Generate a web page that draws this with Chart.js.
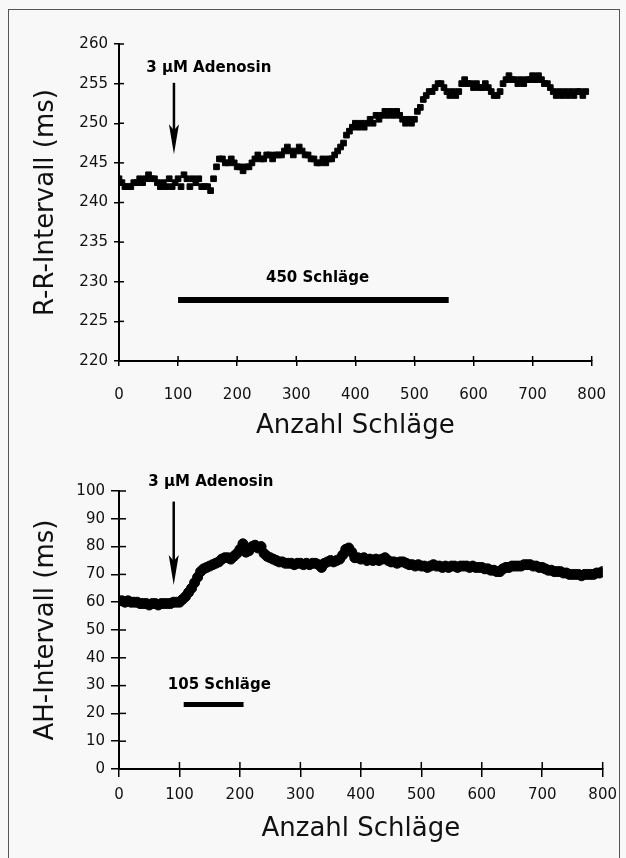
<!DOCTYPE html>
<html>
<head>
<meta charset="utf-8">
<script src="https://cdn.jsdelivr.net/npm/chart.js@4.4.1/dist/chart.umd.min.js"></script>
<style>
  html, body { margin: 0; padding: 0; background: #f8f8f8; }
  #page { position: relative; width: 626px; height: 858px; overflow: hidden; }
  #frame { position: absolute; left: 8px; top: 9px; width: 612px; height: 870px; border: 1px solid #555; box-sizing: border-box; }
  canvas { position: absolute; left: 0; }
  #rrChart { top: 0; }
  #ahChart { top: 445px; }
</style>
</head>
<body>
<div id="page">
  <div id="frame"></div>
  <canvas id="rrChart" width="626" height="445"></canvas>
  <canvas id="ahChart" width="626" height="413"></canvas>
</div>
<script>
// beats are sampled every 5 beats
const beatStep = 5;
const beatTicks = [0, 100, 200, 300, 400, 500, 600, 700, 800];
const rrTicks = [220, 225, 230, 235, 240, 245, 250, 255, 260];
const ahTicks = [0, 10, 20, 30, 40, 50, 60, 70, 80, 90, 100];

// R-R interval (ms), beats 0..790
const rrValues = [
  243, 242.5, 242, 242, 242, 242.5, 242.5, 243, 242.5, 243,
  243.5, 243, 243, 242.5, 242, 242.5, 242, 243, 242, 242.5,
  243, 242, 243.5, 243, 242, 243, 242.5, 243, 242, 242,
  242, 241.5, 243, 244.5, 245.5, 245.5, 245, 245, 245.5, 245,
  244.5, 244.5, 244, 244.5, 244.5, 245, 245.5, 246, 245.5, 245.5,
  246, 246, 245.5, 246, 246, 246, 246.5, 247, 246.5, 246,
  246.5, 247, 246.5, 246, 246, 245.5, 245.5, 245, 245, 245.5,
  245, 245.5, 245.5, 246, 246.5, 247, 247.5, 248.5, 249, 249.5,
  250, 249.5, 250, 249.5, 250, 250.5, 250, 251, 250.5, 251,
  251.5, 251, 251.5, 251, 251.5, 251, 250.5, 250, 250.5, 250,
  250.5, 251.5, 252, 253, 253.5, 254, 254, 254.5, 255, 255,
  254.5, 254, 253.5, 254, 253.5, 254, 255, 255.5, 255, 255,
  254.5, 255, 254.5, 254.5, 255, 254.5, 254, 253.5, 253.5, 254,
  255, 255.5, 256, 255.5, 255.5, 255, 255.5, 255, 255.5, 255.5,
  256, 255.5, 256, 255.5, 255, 255, 254.5, 254, 253.5, 254,
  253.5, 254, 253.5, 254, 253.5, 254, 254, 253.5, 254
];

// AH interval (ms), beats 0..800
const ahValues = [
  60.5, 60.5, 60, 60.5, 60, 60, 60, 59.5, 59.5, 59.5,
  59, 59.5, 59.5, 59, 59.5, 59.5, 59.5, 59.5, 60, 60,
  60, 61, 62, 63.5, 65, 67, 69, 71, 72, 72.5,
  73, 73.5, 74, 74.5, 75.5, 76, 76, 75.5, 76.5, 77.5,
  79, 81, 78, 78.5, 80, 80.5, 79.5, 80, 77.5, 76.5,
  76, 75.5, 75, 74.5, 74.5, 74, 74, 74, 73.5, 74,
  74, 73.5, 74, 73.5, 74, 74, 73.5, 72.5, 74, 74.5,
  75, 74.5, 75, 75.5, 77, 79, 79.5, 78, 76, 76,
  75.5, 76, 75, 75.5, 75, 75.5, 75, 75.5, 76, 75,
  74.5, 74.5, 74, 74.5, 74.5, 74, 73.5, 73.5, 73, 73.5,
  73, 73, 72.5, 73, 73.5, 73, 73, 72.5, 73, 72.5,
  73, 73, 72.5, 73, 73, 73, 72.5, 73, 72.5, 72.5,
  72.5, 72, 72, 71.5, 71.5, 71, 71, 72, 72.5, 72.5,
  73, 73, 73, 73, 73.5, 73.5, 73.5, 73, 73, 72.5,
  72.5, 72, 71.5, 71.5, 71, 71, 71, 70.5, 70.5, 70,
  70, 70, 70, 69.5, 70, 70, 70, 70, 70.5, 70.5,
  71
];

// annotations in data units: [beat, from, to] and [text, beat, value]
const adenosinText = '3 \u00b5M Adenosin';
const rrArrow = [93, 255.1, 246.1];
const rrBar = [100, 558, 227.7];
const rrLabels = [[adenosinText, 152, 257], ['450 Schläge', 336, 230.4]];
const ahArrow = [90.5, 96.2, 66.2];
const ahBar = [107, 206, 23.2];
const ahLabels = [[adenosinText, 152, 103.1], ['105 Schläge', 166, 30.2]];

function toPoints(values) {
    return values.map((v, i) => ({ x: i * beatStep, y: v }));
}

function useTicks(list) {
    return function (scale) {
        scale.ticks = list.map(v => ({ value: v }));
    };
}

// draws arrow, bold labels and the inner half of the tick marks
const annotate = {
    id: 'annotate',
    afterDraw(chart, args, opts) {
        const ctx = chart.ctx;
        const x = chart.scales.x;
        const y = chart.scales.y;
        const area = chart.chartArea;
        ctx.save();
        ctx.strokeStyle = '#000';
        ctx.fillStyle = '#000';

        ctx.lineWidth = 1.5;
        beatTicks.forEach(t => {
            const px = x.getPixelForValue(t);
            ctx.beginPath();
            ctx.moveTo(px, area.bottom);
            ctx.lineTo(px, area.bottom - opts.inTick);
            ctx.stroke();
        });
        opts.yTicks.forEach(t => {
            const py = y.getPixelForValue(t);
            ctx.beginPath();
            ctx.moveTo(area.left, py);
            ctx.lineTo(area.left + opts.inTick, py);
            ctx.stroke();
        });

        const ax = x.getPixelForValue(opts.arrow[0]);
        const ay0 = y.getPixelForValue(opts.arrow[1]);
        const ay1 = y.getPixelForValue(opts.arrow[2]);
        ctx.lineWidth = 2.5;
        ctx.beginPath();
        ctx.moveTo(ax, ay0);
        ctx.lineTo(ax, ay1 - 20);
        ctx.stroke();
        ctx.beginPath();
        ctx.moveTo(ax - 5, ay1 - 30);
        ctx.lineTo(ax, ay1 - 24);
        ctx.lineTo(ax + 5, ay1 - 30);
        ctx.lineTo(ax, ay1);
        ctx.closePath();
        ctx.fill();

        ctx.font = 'bold 15px "DejaVu Sans"';
        ctx.textAlign = 'center';
        ctx.textBaseline = 'middle';
        opts.labels.forEach(l => {
            ctx.fillText(l[0], x.getPixelForValue(l[1]), y.getPixelForValue(l[2]));
        });
        ctx.restore();
    }
};

function makeChart(id, cfg) {
    const tickFont = { family: 'DejaVu Sans', size: 15 };
    const titleFont = { family: 'DejaVu Sans', size: 26 };
    return new Chart(document.getElementById(id), {
        type: 'scatter',
        data: {
            datasets: [
                Object.assign({ data: cfg.points, borderColor: '#000' }, cfg.marker),
                {
                    type: 'line',
                    data: [{ x: cfg.bar[0], y: cfg.bar[2] }, { x: cfg.bar[1], y: cfg.bar[2] }],
                    borderColor: '#000',
                    borderWidth: cfg.barWidth,
                    borderCapStyle: 'butt',
                    pointRadius: 0,
                    fill: false
                }
            ]
        },
        options: {
            responsive: false,
            animation: false,
            events: [],
            layout: { padding: cfg.padding },
            plugins: {
                legend: { display: false },
                tooltip: { enabled: false },
                annotate: { arrow: cfg.arrow, labels: cfg.labels, inTick: cfg.inTick, yTicks: cfg.yTicks }
            },
            scales: {
                x: {
                    type: 'linear',
                    min: beatTicks[0],
                    max: beatTicks[beatTicks.length - 1],
                    afterBuildTicks: useTicks(beatTicks),
                    afterFit: s => { s.height = cfg.xHeight; },
                    grid: { drawOnChartArea: false, tickLength: cfg.outTick, color: '#000', lineWidth: 1.5 },
                    border: { color: '#000', width: 2 },
                    ticks: { padding: cfg.xPad, color: '#111', font: tickFont, maxRotation: 0 },
                    title: { display: true, text: 'Anzahl Schläge', color: '#111', font: titleFont, padding: 0 }
                },
                y: {
                    type: 'linear',
                    min: cfg.yTicks[0],
                    max: cfg.yTicks[cfg.yTicks.length - 1],
                    afterBuildTicks: useTicks(cfg.yTicks),
                    afterFit: s => { s.width = 88.3; },
                    grid: { drawOnChartArea: false, tickLength: cfg.outTick, color: '#000', lineWidth: 1.5 },
                    border: { color: '#000', width: 2 },
                    ticks: { padding: 6, color: '#111', font: tickFont },
                    title: { display: true, text: cfg.yTitle, color: '#111', font: titleFont, padding: 0 }
                }
            }
        },
        plugins: [annotate]
    });
}

makeChart('rrChart', {
    points: toPoints(rrValues),
    marker: { pointStyle: 'rect', pointRadius: 4, borderWidth: 1, backgroundColor: '#000' },
    bar: rrBar, barWidth: 6,
    arrow: rrArrow, labels: rrLabels,
    yTicks: rrTicks, yTitle: 'R-R-Intervall (ms)',
    padding: { left: 30.7, top: 44, right: 30, bottom: 3.1 },
    xHeight: 80.9, xPad: 20, outTick: 5, inTick: 5
});

makeChart('ahChart', {
    points: toPoints(ahValues),
    marker: { pointStyle: 'circle', pointRadius: 5, borderWidth: 1, backgroundColor: '#000' },
    bar: ahBar, barWidth: 5,
    arrow: ahArrow, labels: ahLabels,
    yTicks: ahTicks, yTitle: 'AH-Intervall (ms)',
    padding: { left: 30.7, top: 46, right: 17, bottom: 12.8 },
    xHeight: 76.2, xPad: 9, outTick: 8, inTick: 7
});
</script>
</body>
</html>
